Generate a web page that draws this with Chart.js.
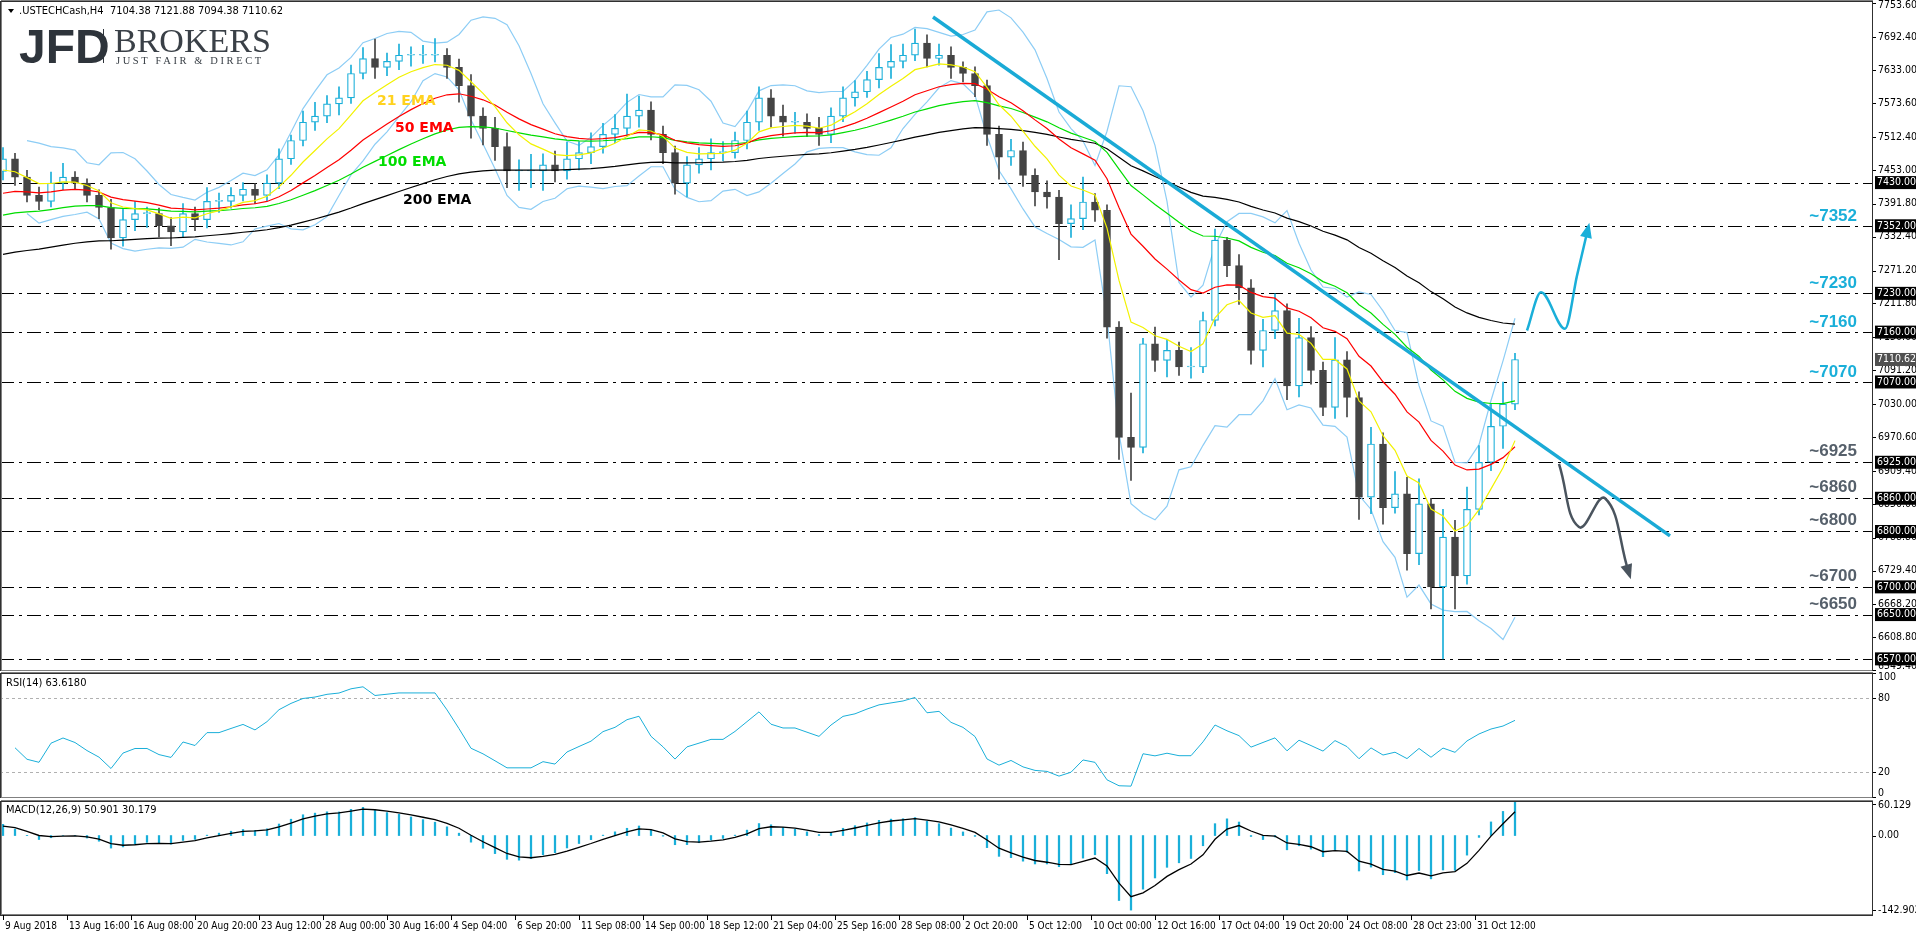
<!DOCTYPE html>
<html><head><meta charset="utf-8">
<script src="https://cdn.jsdelivr.net/npm/chart.js@4.4.1/dist/chart.umd.min.js"></script>
<style>
html,body{margin:0;padding:0;background:#fff;width:1916px;height:936px;overflow:hidden}
.p{position:absolute;left:0}
</style></head><body>
<div class="p" style="top:0"><canvas id="cPrice" width="1916" height="671"></canvas></div>
<div class="p" style="top:672px"><canvas id="cRsi" width="1916" height="126"></canvas></div>
<div class="p" style="top:800px"><canvas id="cMacd" width="1916" height="136"></canvas></div>
<script>
// ---------- DATA (one candle = 12h, x measured in H4 bars) ----------
const closes = [7473,7440,7407,7396,7429,7440,7429,7407,7385,7330,
7363,7374,7374,7352,7341,7374,7363,7396,7396,7407,
7418,7407,7429,7473,7506,7539,7550,7572,7583,7627,
7654,7638,7649,7660,7660,7660,7660,7638,7605,7550,
7528,7495,7451,7451,7451,7462,7451,7473,7484,7495,
7517,7528,7550,7561,7517,7484,7429,7462,7473,7484,
7484,7506,7539,7583,7550,7539,7539,7528,7517,7550,
7583,7594,7616,7638,7649,7660,7682,7654,7660,7638,
7627,7605,7517,7476,7488,7443,7413,7404,7356,7365,
7395,7380,7169,6970,6952,7139,7109,7127,7097,7097,
7181,7326,7280,7240,7127,7163,7199,7063,7150,7091,
7024,7110,7042,6862,6958,6843,6868,6760,6850,6700,
6790,6720,6840,6925,6990,7030,7110.62];
const highs = [7493,7483,7452,7422,7449,7465,7450,7437,7417,7400,
7383,7396,7386,7384,7367,7392,7386,7421,7411,7421,
7430,7428,7444,7491,7516,7559,7575,7587,7603,7642,
7674,7689,7664,7680,7675,7678,7690,7672,7653,7625,
7565,7548,7520,7471,7481,7482,7487,7503,7504,7520,
7537,7553,7590,7586,7576,7532,7496,7477,7493,7509,
7504,7521,7559,7603,7598,7570,7557,7554,7548,7565,
7603,7614,7631,7663,7679,7680,7707,7697,7680,7675,
7648,7639,7615,7532,7508,7503,7455,7433,7416,7390,
7440,7410,7390,7179,7050,7149,7169,7147,7142,7132,
7196,7346,7331,7300,7255,7183,7229,7211,7185,7170,
7106,7150,7125,7052,6988,6978,6908,6898,6895,6860,
6840,6820,6880,6955,7030,7070,7121.88];
const lows = [7435,7425,7395,7381,7386,7417,7419,7395,7365,7310,
7315,7343,7349,7332,7316,7331,7343,7348,7376,7384,
7397,7392,7397,7419,7463,7496,7524,7538,7552,7573,
7617,7618,7623,7634,7640,7645,7648,7618,7575,7510,
7498,7470,7421,7416,7421,7416,7431,7436,7453,7464,
7483,7502,7513,7530,7507,7464,7409,7404,7447,7453,
7469,7474,7491,7524,7530,7514,7519,7513,7497,7502,
7540,7568,7584,7601,7618,7637,7650,7639,7642,7618,
7612,7585,7497,7436,7461,7423,7388,7384,7291,7331,
7345,7360,7149,6930,6892,6942,7089,7079,7082,7077,
7087,7171,7260,7210,7102,7097,7148,7038,7043,7066,
7009,7004,7007,6822,6832,6813,6833,6730,6740,6660,
6570,6660,6705,6830,6910,6950,7020];
const firstOpen = 7450;
const barsPerCandle = 3;
const xLabels = ["9 Aug 2018","13 Aug 16:00","16 Aug 08:00","20 Aug 20:00","23 Aug 12:00","28 Aug 00:00","30 Aug 16:00","4 Sep 04:00","6 Sep 20:00","11 Sep 08:00","14 Sep 00:00","18 Sep 12:00","21 Sep 04:00","25 Sep 16:00","28 Sep 08:00","2 Oct 20:00","5 Oct 12:00","10 Oct 00:00","12 Oct 16:00","17 Oct 04:00","19 Oct 20:00","24 Oct 08:00","28 Oct 23:00","31 Oct 12:00"];
const priceTicks = [7753.60,7692.40,7633.00,7573.60,7512.40,7453.00,7391.80,7332.40,7271.20,7211.80,7150.60,7091.20,7030.00,6970.60,6909.40,6850.00,6788.80,6729.40,6668.20,6608.80,6549.40];
const blueLevels = [7352,7230,7160,7070];
const grayLevels = [6925,6860,6800,6700,6650];
const otherLevels = [7430,6570];
const lastPrice = 7110.62;
const trendLine = [[232.5,7729],[416.75,6792]];
const upArrow = [[381,7163],[384.5,7232],[390.5,7166],[393.5,7262],[396.25,7347]];
const downArrow = [[389,6922],[394,6808],[400.5,6860],[406.5,6724]];
const emaSeeds = {e21:7446,e50:7403,e100:7365,e200:7295};
const emaLabels = [["21 EMA","#FFD21F",377,101],["50 EMA","#FF0000",395,128],["100 EMA","#00DD00",378,162],["200 EMA","#000000",403,200]];
const rsiTicks=[100,80,20,0], macdTicks=[60.129,0,-142.902];
const headerText='.USTECHCash,H4  7104.38 7121.88 7094.38 7110.62';
const rsiText='RSI(14) 63.6180', macdText='MACD(12,26,9) 50.901 30.179';

// ---------- helpers ----------
const opens = closes.map((c,i)=> i===0 ? firstOpen : closes[i-1]);
const X = i => i*barsPerCandle;
function ema(a,n,seed){const k=2/(n+1);let p=seed;return a.map(v=>{p=(p==null)?v:p+k*(v-p);return p;});}
const e21=ema(closes,7,emaSeeds.e21), e50=ema(closes,17,emaSeeds.e50), e100=ema(closes,33,emaSeeds.e100), e200=ema(closes,67,emaSeeds.e200);
const bbU=[], bbL=[];
closes.forEach((c,i)=>{const w=closes.slice(Math.max(0,i-6),i+1);if(w.length<3){bbU.push(null);bbL.push(null);return;}
 const m=w.reduce((a,b)=>a+b,0)/w.length;const sd=Math.sqrt(w.reduce((a,b)=>a+(b-m)*(b-m),0)/w.length);bbU.push(m+2*sd+12);bbL.push(m-2*sd-12);});
const RP=9;
const rsi=new Array(closes.length).fill(null);
(function(){let ag=6,al=5;for(let i=1;i<closes.length;i++){const d=closes[i]-closes[i-1];ag=(ag*(RP-1)+Math.max(d,0))/RP;al=(al*(RP-1)+Math.max(-d,0))/RP;rsi[i]=100-100/(1+ag/Math.max(al,1e-9));}})();
const m4=ema(closes,4,7458), m9=ema(closes,9,7435);
const macd=m4.map((v,i)=>v-m9[i]); const sig=ema(macd,3,15);
const pts = a => a.map((v,i)=>({x:X(i),y:v}));
const CY='#1AAFD9', DK='#444444';
const FONT='"DejaVu Sans Condensed","DejaVu Sans",sans-serif';
const XMIN=-0.75, XMAX=467.5;

function boxPlugin(drawExtra){return {id:'box'+Math.floor(Math.random()*1e6),afterDraw(ch){const a=ch.chartArea,c=ch.ctx;c.save();
 c.strokeStyle='#808080';c.lineWidth=1;c.strokeRect(a.left+1.5,a.top+0.5,a.right-a.left-2,a.bottom-a.top-1);
 c.strokeStyle='#303030';c.strokeRect(a.left+0.5,a.top+1.5,a.right-a.left-1,a.bottom-a.top-1);c.restore();drawExtra&&drawExtra(ch);}};}
function yLabels(ch,vals,fmt){const c=ch.ctx,y=ch.scales.y,a=ch.chartArea;c.save();c.font='10.5px '+FONT;c.fillStyle='#000';c.textBaseline='middle';
 vals.forEach(v=>{const py=Math.min(Math.max(y.getPixelForValue(v),a.top+5),a.bottom-5);c.fillText(fmt(v),a.right+5,py);c.fillRect(a.right,Math.round(y.getPixelForValue(v)),3,1);});c.restore();}
const yAfterFit = s=>{s.width=43;};

// ---------- PRICE ----------
const allLevels=[...otherLevels,...blueLevels,...grayLevels];
const levelPlugin={id:'levels',beforeDatasetsDraw(ch){const c=ch.ctx,a=ch.chartArea,y=ch.scales.y;c.save();c.strokeStyle='#000';c.lineWidth=1;c.setLineDash([14,5,3,5]);
 allLevels.forEach(l=>{const py=Math.round(y.getPixelForValue(l))+0.5;c.beginPath();c.moveTo(a.left,py);c.lineTo(a.right,py);c.stroke();});c.restore();}};
function arrowHead(ch,p1,p2,col){const x=ch.scales.x,y=ch.scales.y,c=ch.ctx;const x1=x.getPixelForValue(p1[0]),y1=y.getPixelForValue(p1[1]),x2=x.getPixelForValue(p2[0]),y2=y.getPixelForValue(p2[1]);
 const ang=Math.atan2(y2-y1,x2-x1);c.save();c.fillStyle=col;c.beginPath();c.moveTo(x2+6*Math.cos(ang),y2+6*Math.sin(ang));
 c.lineTo(x2-9*Math.cos(ang)+6*Math.sin(ang),y2-9*Math.sin(ang)-6*Math.cos(ang));c.lineTo(x2-9*Math.cos(ang)-6*Math.sin(ang),y2-9*Math.sin(ang)+6*Math.cos(ang));c.closePath();c.fill();c.restore();}
function priceExtra(ch){const c=ch.ctx,a=ch.chartArea,y=ch.scales.y;
 yLabels(ch,priceTicks,v=>v.toFixed(2));
 c.save();c.font='10.5px '+FONT;c.textBaseline='middle';
 allLevels.forEach(l=>{const py=y.getPixelForValue(l);c.fillStyle='#000';c.fillRect(a.right+2,py-6.5,42,13);c.fillStyle='#fff';c.fillText(l.toFixed(2),a.right+4,py);});
 const lp=y.getPixelForValue(lastPrice);c.fillStyle='#505050';c.fillRect(a.right+2,lp-6.5,42,13);c.fillStyle='#fff';c.fillText(lastPrice.toFixed(2),a.right+4,lp);
 c.font='bold 17px "Liberation Sans",sans-serif';c.textAlign='right';c.textBaseline='alphabetic';
 blueLevels.forEach(l=>{c.fillStyle=CY;c.fillText('~'+l,1857,y.getPixelForValue(l)-5);});
 grayLevels.forEach(l=>{c.fillStyle='#56606B';c.fillText('~'+l,1857,y.getPixelForValue(l)-6);});
 c.textAlign='left';c.font='bold 14px "DejaVu Sans",sans-serif';c.textBaseline='middle';
 emaLabels.forEach(e=>{c.fillStyle=e[1];c.fillText(e[0],e[2],e[3]);});
 c.fillStyle='#000';c.font='11px '+FONT;c.fillText(headerText,19,11);
 c.beginPath();c.moveTo(8,9);c.lineTo(14,9);c.lineTo(11,13);c.closePath();c.fill();
 c.fillStyle='#2E343B';c.font='bold 48px "Liberation Sans",sans-serif';c.textBaseline='alphabetic';c.fillText('JFD',19,63);
 c.fillRect(103,29,1,34);c.fillRect(102,38,3,14);
 c.fillStyle='#3A4047';c.font='34px "Liberation Serif",serif';c.fillText('BROKERS',114,52);
 c.font='10.5px "Liberation Serif",serif';if('letterSpacing' in c)c.letterSpacing='2.6px';c.fillText('JUST FAIR & DIRECT',116,64);if('letterSpacing' in c)c.letterSpacing='0px';
 c.restore();
 arrowHead(ch,upArrow[upArrow.length-2],upArrow[upArrow.length-1],CY);
 arrowHead(ch,downArrow[downArrow.length-2],downArrow[downArrow.length-1],'#4A545E');
}
const bull=closes.map((c,i)=>c>=opens[i]);
new Chart(document.getElementById('cPrice'),{type:'bar',
 data:{datasets:[
  {type:'line',data:trendLine.map(p=>({x:p[0],y:p[1]})),borderColor:'#1AAAD6',borderWidth:3.5,pointRadius:0,order:0},
  {type:'line',data:upArrow.map(p=>({x:p[0],y:p[1]})),borderColor:CY,borderWidth:2.5,pointRadius:0,tension:0.45,cubicInterpolationMode:'monotone',order:0},
  {type:'line',data:downArrow.map(p=>({x:p[0],y:p[1]})),borderColor:'#4A545E',borderWidth:2.5,pointRadius:0,tension:0.45,order:0},
  {type:'line',data:pts(e21),borderColor:'#F2F200',borderWidth:1.2,pointRadius:0,order:1},
  {type:'line',data:pts(e50),borderColor:'#FF0000',borderWidth:1.2,pointRadius:0,order:1},
  {type:'line',data:pts(e100),borderColor:'#00DD00',borderWidth:1.2,pointRadius:0,order:1},
  {type:'line',data:pts(e200),borderColor:'#000000',borderWidth:1.2,pointRadius:0,order:1},
  {type:'bar',grouped:false,data:closes.map((c,i)=>({x:X(i),y:[opens[i],c]})),barThickness:7,minBarLength:1,
   backgroundColor:bull.map(b=>b?'#FFFFFF':DK),borderColor:bull.map(b=>b?CY:DK),borderWidth:1.2,borderSkipped:false,order:2},
  {type:'bar',grouped:false,data:closes.map((c,i)=>({x:X(i),y:[lows[i],highs[i]]})),barThickness:1,
   backgroundColor:bull.map(b=>b?CY:DK),order:3},
  {type:'line',data:pts(bbU),borderColor:'#8DCDF5',borderWidth:1.2,pointRadius:0,order:4},
  {type:'line',data:pts(bbL),borderColor:'#8DCDF5',borderWidth:1.2,pointRadius:0,order:4}
 ]},
 options:{responsive:false,animation:false,devicePixelRatio:1,layout:{padding:0},
  plugins:{legend:{display:false},tooltip:{enabled:false}},
  scales:{x:{type:'linear',min:XMIN,max:XMAX,display:false,offset:false},
   y:{position:'right',min:6548.1,max:7759.7,grid:{display:false},border:{display:false},ticks:{display:false},afterFit:yAfterFit}}},
 plugins:[levelPlugin,boxPlugin(priceExtra)]});

// ---------- RSI ----------
const rsiGuides={id:'rg',beforeDatasetsDraw(ch){const c=ch.ctx,a=ch.chartArea,y=ch.scales.y;c.save();c.strokeStyle='#B0B0B0';c.setLineDash([3,3]);
 [80,20].forEach(v=>{const py=Math.round(y.getPixelForValue(v))+0.5;c.beginPath();c.moveTo(a.left,py);c.lineTo(a.right,py);c.stroke();});c.restore();}};
new Chart(document.getElementById('cRsi'),{type:'line',
 data:{datasets:[{data:pts(rsi),borderColor:CY,borderWidth:1,pointRadius:0}]},
 options:{responsive:false,animation:false,devicePixelRatio:1,layout:{padding:0},plugins:{legend:{display:false},tooltip:{enabled:false}},
  scales:{x:{type:'linear',min:XMIN,max:XMAX,display:false,offset:false},y:{position:'right',min:-1,max:101,grid:{display:false},border:{display:false},ticks:{display:false},afterFit:yAfterFit}}},
 plugins:[rsiGuides,boxPlugin(ch=>{yLabels(ch,rsiTicks,v=>String(v));const c=ch.ctx;c.save();c.font='11px '+FONT;c.fillStyle='#000';c.textBaseline='middle';c.fillText(rsiText,6,11);c.restore();})]});

// ---------- MACD ----------
function xAxisLabels(ch){const c=ch.ctx,a=ch.chartArea,x=ch.scales.x;c.save();c.fillStyle='#000';c.font='10px '+FONT;c.textBaseline='top';
 xLabels.forEach((l,k)=>{const px=Math.round(x.getPixelForValue(16*k));c.fillRect(px,a.bottom,1,5);c.fillText(l,px+2,a.bottom+6);});c.restore();}
new Chart(document.getElementById('cMacd'),{type:'bar',
 data:{datasets:[
  {type:'line',data:pts(sig),borderColor:'#000',borderWidth:1.3,pointRadius:0,order:0},
  {type:'bar',data:pts(macd),backgroundColor:CY,barThickness:1.6,order:1}]},
 options:{responsive:false,animation:false,devicePixelRatio:1,layout:{padding:{bottom:21}},plugins:{legend:{display:false},tooltip:{enabled:false}},
  scales:{x:{type:'linear',min:XMIN,max:XMAX,display:false,offset:false},
   y:{position:'right',min:-152,max:68,grid:{display:false},border:{display:false},ticks:{display:false},afterFit:yAfterFit}}},
 plugins:[boxPlugin(ch=>{yLabels(ch,macdTicks,v=>v===0?'0.00':String(v));xAxisLabels(ch);const c=ch.ctx;c.save();c.font='11px '+FONT;c.fillStyle='#000';c.textBaseline='middle';
   c.fillText(macdText,6,10);c.restore();})]});
</script></body></html>
